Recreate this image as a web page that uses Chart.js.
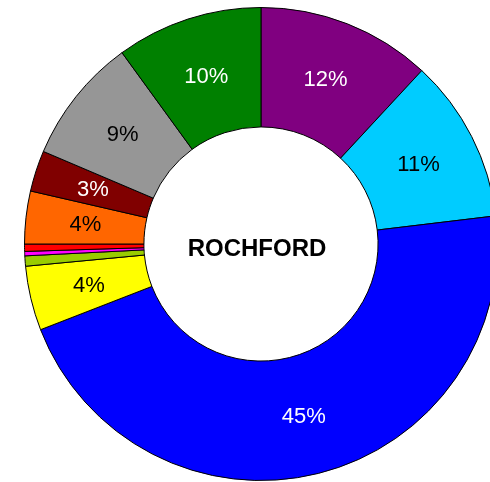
<!DOCTYPE html>
<html>
<head>
<meta charset="utf-8">
<script src="https://cdn.jsdelivr.net/npm/chart.js@4"></script>
<style>
  html, body { margin: 0; padding: 0; background: #ffffff; overflow: hidden; }
  #wrap { position: absolute; left: 0; top: 0; width: 522px; height: 482px; }
</style>
</head>
<body>
<div id="wrap"><canvas id="c" width="522" height="482"></canvas></div>
<script>
const categories = ['Purple', 'Cyan', 'Blue', 'Yellow', 'Yellow-green', 'Magenta', 'Red', 'Orange', 'Dark red', 'Grey', 'Green'];
const values = [11.9, 11.2, 46.0, 4.4, 0.7, 0.3, 0.5, 3.6, 2.8, 8.6, 10.0];
const pctLabels = ['12%', '11%', '45%', '4%', '', '', '', '4%', '3%', '9%', '10%'];
const sliceColors = ['#800080', '#00CCFF', '#0000FF', '#FFFF00', '#99CC00', '#FF00FF', '#FF0000', '#FF6600', '#800000', '#969696', '#008000'];
const labelColors = ['#ffffff', '#000000', '#ffffff', '#000000', '#000000', '#000000', '#000000', '#000000', '#ffffff', '#000000', '#ffffff'];
const centerTitle = 'ROCHFORD';

const labelPlugin = {
  id: 'sliceLabels',
  afterDatasetsDraw(chart) {
    const ctx = chart.ctx;
    const meta = chart.getDatasetMeta(0);
    ctx.save();
    ctx.textAlign = 'center';
    ctx.textBaseline = 'middle';
    ctx.font = '22px "Liberation Sans", Arial, sans-serif';
    meta.data.forEach((arc, i) => {
      const txt = pctLabels[i];
      if (!txt) return;
      const p = arc.getCenterPoint();
      ctx.fillStyle = labelColors[i];
      ctx.fillText(txt, p.x, p.y + 1);
    });
    const a = meta.data[0];
    ctx.font = 'bold 24px "Liberation Sans", Arial, sans-serif';
    ctx.fillStyle = '#000000';
    ctx.fillText(centerTitle, a.x - 4, a.y + 5);
    ctx.restore();
  }
};

new Chart(document.getElementById('c'), {
  type: 'doughnut',
  data: {
    labels: categories,
    datasets: [{
      data: values,
      backgroundColor: sliceColors,
      borderColor: '#000000',
      borderWidth: 1,
      borderAlign: 'center'
    }]
  },
  options: {
    responsive: false,
    animation: false,
    cutout: '49.5%',
    layout: { padding: { left: 24, right: 24, top: 7, bottom: 1 } },
    plugins: {
      legend: { display: false },
      tooltip: { enabled: false }
    }
  },
  plugins: [labelPlugin]
});
</script>
</body>
</html>
